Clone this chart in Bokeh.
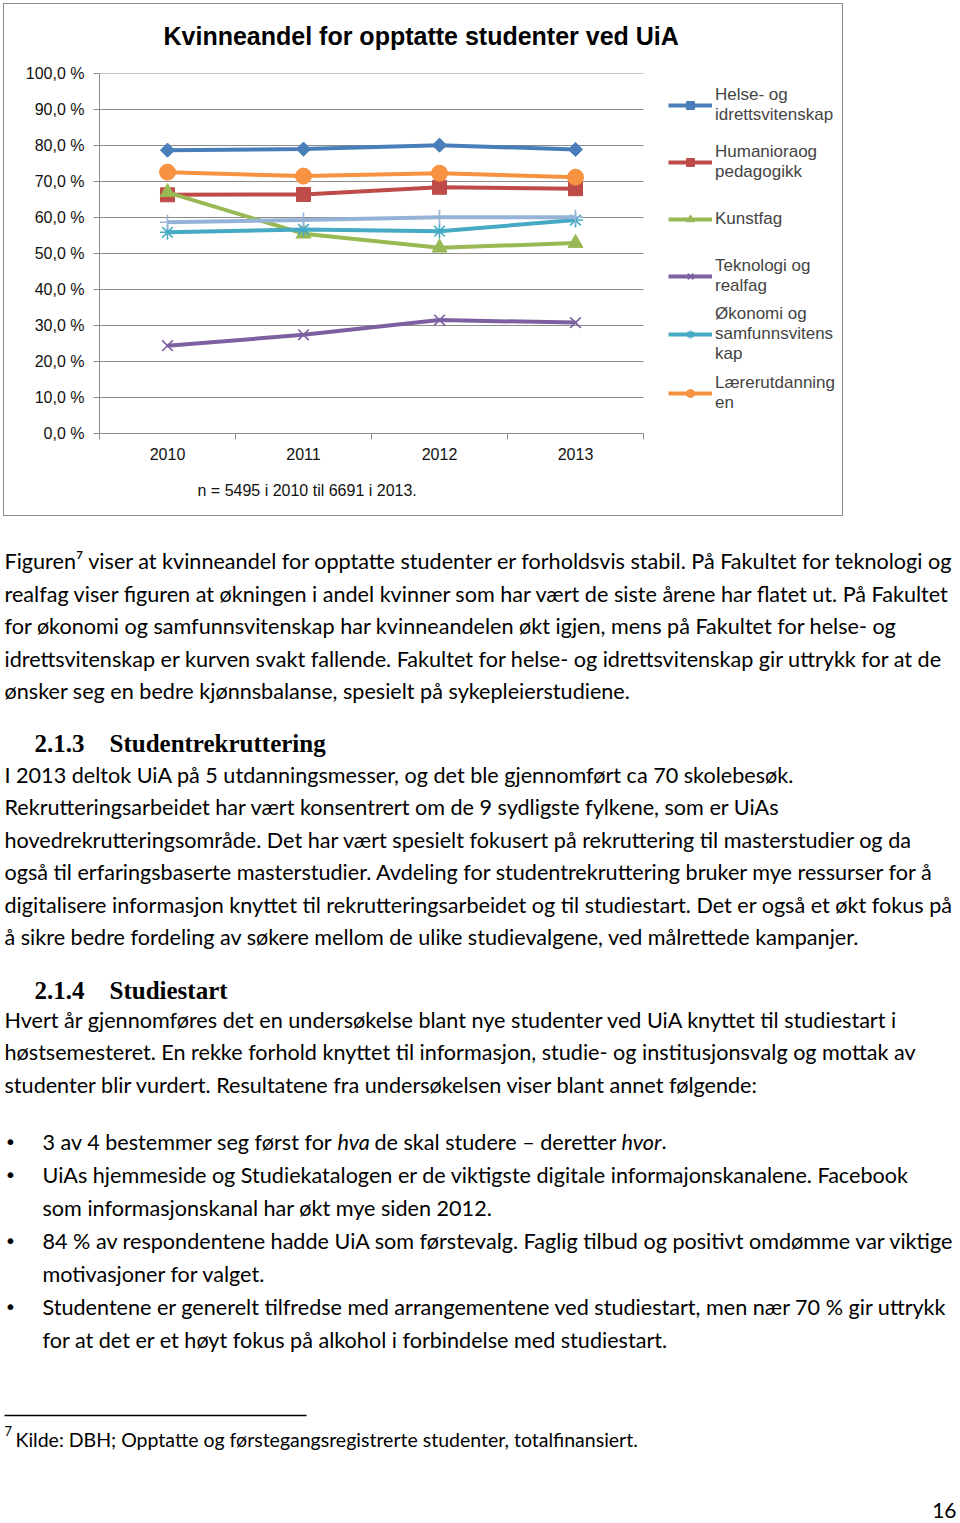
from bokeh.plotting import figure
from bokeh.models import Range1d, FixedTicker, Legend, LegendItem, Title
from bokeh.layouts import column
from bokeh.embed import file_html
from bokeh.resources import INLINE
from bokeh.core.properties import value
import math

# ---------------- data ----------------
years = [2010, 2011, 2012, 2013]
helse = [78.7, 79.0, 80.1, 78.9]
humaniora = [66.3, 66.4, 68.4, 68.0]
kunstfag = [67.0, 55.5, 51.6, 52.9]
teknologi = [24.4, 27.4, 31.5, 30.8]
okonomi = [55.9, 56.7, 56.2, 59.3]
laerer = [72.6, 71.5, 72.3, 71.2]
totalt = [58.7, 59.3, 60.1, 60.1]

y_ticks = [0, 10, 20, 30, 40, 50, 60, 70, 80, 90, 100]
y_tick_labels = ["0,0 %", "10,0 %", "20,0 %", "30,0 %", "40,0 %", "50,0 %",
                 "60,0 %", "70,0 %", "80,0 %", "90,0 %", "100,0 %"]

series_labels = ["Helse- og\nidrettsvitenskap", "Humanioraog\npedagogikk", "Kunstfag",
                 "Teknologi og\nrealfag", "Økonomi og\nsamfunnsvitens\nkap", "Lærerutdanning\nen"]

title_text = "Kvinneandel for opptatte studenter ved UiA"
note_text = "n = 5495 i 2010 til 6691 i 2013."

GRID = "#8c8c8c"
ARIAL = "Liberation Sans"

# ---------------- chart ----------------
W1, H1 = 846, 519
FRAME_L, PLOT_R, FRAME_T, FRAME_B = 99, 643, 73, 433
x_lo, x_hi = years[0] - 0.5, years[-1] + 0.5
px_per_year = (PLOT_R - FRAME_L) / (x_hi - x_lo)
# the frame continues to the right edge so the legend can sit inside it;
# grid lines and axis are bounded to the category area
x_end = x_lo + (W1 - FRAME_L) / px_per_year

p = figure(width=W1, height=H1, x_range=Range1d(x_lo, x_end), y_range=Range1d(0, 100),
           output_backend="svg", toolbar_location=None,
           min_border_left=FRAME_L, min_border_right=0, min_border_top=FRAME_T,
           min_border_bottom=H1 - FRAME_B)
p.frame_align = False
p.styles = {"outline": "1px solid #8c8c8c", "outline-offset": "-4px"}
p.border_fill_color = None
p.background_fill_color = None
p.outline_line_color = None
p.xgrid.visible = False
p.ygrid.visible = False
# horizontal grid lines limited to the plot area (left of the legend)
p.segment(x0=[x_lo] * len(y_ticks), y0=y_ticks, x1=[x_hi] * len(y_ticks), y1=y_ticks,
          line_color=GRID, line_width=1, level="underlay")

bounds = [y - 0.5 for y in years] + [years[-1] + 0.5]
p.xaxis.bounds = (x_lo, x_hi)
p.xaxis.ticker = FixedTicker(ticks=years, minor_ticks=bounds)
p.xaxis.major_tick_out = 0
p.xaxis.major_tick_in = 0
p.xaxis.minor_tick_out = 6
p.xaxis.minor_tick_in = 0
p.xaxis.minor_tick_line_color = GRID
p.xaxis.axis_line_color = GRID
p.xaxis.major_label_standoff = 8
p.xaxis.major_label_text_font = ARIAL
p.xaxis.major_label_text_font_size = "16px"
p.xaxis.major_label_text_color = "#111111"

p.yaxis.ticker = FixedTicker(ticks=y_ticks, minor_ticks=[])
p.yaxis.major_label_overrides = dict(zip(y_ticks, y_tick_labels))
p.yaxis.major_tick_out = 6
p.yaxis.major_tick_in = 0
p.yaxis.major_tick_line_color = GRID
p.yaxis.minor_tick_out = 0
p.yaxis.minor_tick_in = 0
p.yaxis.axis_line_color = GRID
p.yaxis.major_label_standoff = 9
p.yaxis.major_label_text_font = ARIAL
p.yaxis.major_label_text_font_size = "16px"
p.yaxis.major_label_text_color = "#111111"

LW = 4
items = []

def add(vals, color, marker, size, label=None, angle=0.0, mlw=1.0, hollow=False):
    lr = p.line(years, vals, line_color=color, line_width=LW)
    if hollow:
        sr = p.scatter(years, vals, marker=marker, size=size, line_color=color,
                       line_width=mlw, fill_alpha=0, angle=angle)
    else:
        sr = p.scatter(years, vals, marker=marker, size=size, line_color=color,
                       fill_color=color, line_width=mlw, angle=angle)
    if label is not None:
        items.append(LegendItem(label=label, renderers=[lr, sr]))

add(helse, "#4A7EBB", "square", 10, series_labels[0], angle=math.pi / 4)
add(humaniora, "#BE4B48", "square", 14, series_labels[1])
add(kunstfag, "#98B954", "triangle", 15, series_labels[2])
add(teknologi, "#7D60A0", "x", 15, series_labels[3], mlw=1.6, hollow=True)
add(okonomi, "#46AAC5", "asterisk", 15, series_labels[4], mlw=1.6, hollow=True)
add(laerer, "#F69240", "circle", 16, series_labels[5])
add(totalt, "#95B3D7", "cross", 15, None, mlw=1.6, hollow=True)

# tuple location = bottom-left corner of the legend, relative to the frame
legend = Legend(items=items, location=(569, 12), padding=0, margin=0,
                glyph_width=44, glyph_height=20, label_standoff=3, spacing=0,
                label_height=57,
                label_text_font=ARIAL, label_text_font_size="17px",
                label_text_line_height=1.0,
                border_line_alpha=0, background_fill_alpha=0)
p.add_layout(legend)

p.add_layout(Title(text=title_text, align="left", offset=64, standoff=43,
                   vertical_align="top",
                   text_font=ARIAL, text_font_size="25px", text_font_style="bold",
                   text_color="#000000"), "above")
p.add_layout(Title(text=note_text, align="left", offset=98, standoff=38,
                   vertical_align="top",
                   text_font=ARIAL, text_font_size="16px", text_font_style="normal",
                   text_color="#111111"), "below")

# ---------------- document text ----------------
TOP = H1 + 7    # page y of the text figure's top (+ baseline correction)
W2 = 960
H2 = 1523 - H1

body_lines = [
    (4, 567, "Figuren⁷ viser at kvinneandel for opptatte studenter er forholdsvis stabil. På Fakultet for teknologi og"),
    (4, 600, "realfag viser figuren at økningen i andel kvinner som har vært de siste årene har flatet ut. På Fakultet"),
    (4, 632, "for økonomi og samfunnsvitenskap har kvinneandelen økt igjen, mens på Fakultet for helse- og"),
    (4, 665, "idrettsvitenskap er kurven svakt fallende. Fakultet for helse- og idrettsvitenskap gir uttrykk for at de"),
    (4, 697, "ønsker seg en bedre kjønnsbalanse, spesielt på sykepleierstudiene."),
    (4, 781, "I 2013 deltok UiA på 5 utdanningsmesser, og det ble gjennomført  ca 70 skolebesøk."),
    (4, 813, "Rekrutteringsarbeidet har vært konsentrert om de 9 sydligste fylkene, som er UiAs"),
    (4, 846, "hovedrekrutteringsområde. Det har vært spesielt fokusert på rekruttering til masterstudier og da"),
    (4, 878, "også til erfaringsbaserte masterstudier. Avdeling for studentrekruttering bruker mye ressurser for å"),
    (4, 911, "digitalisere informasjon knyttet til rekrutteringsarbeidet og til studiestart. Det er også et økt fokus på"),
    (4, 943, "å sikre bedre fordeling av søkere mellom de ulike studievalgene, ved målrettede kampanjer."),
    (4, 1026, "Hvert år gjennomføres det en undersøkelse blant nye studenter ved UiA knyttet til studiestart i"),
    (4, 1058, "høstsemesteret. En rekke forhold knyttet til informasjon, studie- og institusjonsvalg  og mottak av"),
    (4, 1091, "studenter blir vurdert.  Resultatene fra undersøkelsen viser blant annet følgende:"),
    (42, 1148, "3 av 4 bestemmer seg først for"),
    (374, 1148, "de skal studere – deretter"),
    (661, 1148, "."),
    (42, 1181, "UiAs hjemmeside  og Studiekatalogen er de viktigste digitale informajonskanalene. Facebook"),
    (42, 1214, "som informasjonskanal har økt mye siden 2012."),
    (42, 1247, "84 % av respondentene hadde UiA som førstevalg. Faglig tilbud og positivt omdømme var viktige"),
    (42, 1280, "motivasjoner for valget."),
    (42, 1313, "Studentene er generelt tilfredse med arrangementene ved studiestart, men nær 70 % gir uttrykk"),
    (42, 1346, "for at det er et høyt fokus på alkohol i forbindelse med studiestart."),
]
italic_words = [(337, 1148, "hva"), (621, 1148, "hvor")]
bullet_rows = [1148, 1181, 1247, 1313]
headings = [(34, 750, "2.1.3"), (109, 750, "Studentrekruttering"),
            (34, 997, "2.1.4"), (109, 997, "Studiestart")]
footnote = (15, 1446, "Kilde: DBH; Opptatte og førstegangsregistrerte studenter, totalfinansiert.")
footnote_mark = (4, 1437, "7")
page_number = (956, 1517, "16")

t = figure(width=W2, height=H2, x_range=Range1d(0, W2), y_range=Range1d(H2, 0),
           output_backend="svg", toolbar_location=None, min_border=0,
           x_axis_location=None, y_axis_location=None)
t.frame_align = False
t.grid.visible = False
t.outline_line_color = None

BODY = value("Lato")
BODY_SIZE = "21.6px"
t.text(x=[a for a, _, _ in body_lines], y=[b - TOP for _, b, _ in body_lines],
       text=[c for _, _, c in body_lines], text_font=BODY, text_font_size=BODY_SIZE,
       text_baseline="alphabetic", text_align="left", text_color="#000000")
t.text(x=[a for a, _, _ in italic_words], y=[b - TOP for _, b, _ in italic_words],
       text=[c for _, _, c in italic_words], text_font=BODY, text_font_size=BODY_SIZE,
       text_font_style="italic", text_baseline="alphabetic", text_color="#000000")
t.text(x=[10] * len(bullet_rows), y=[b - TOP for b in bullet_rows],
       text=["•"] * len(bullet_rows), text_font=value("DejaVu Sans"), text_font_size="20px",
       text_baseline="alphabetic", text_align="center", text_color="#000000")
t.text(x=[a for a, _, _ in headings], y=[b - TOP for _, b, _ in headings],
       text=[c for _, _, c in headings], text_font=value("Liberation Serif"),
       text_font_size="25px", text_font_style="bold", text_baseline="alphabetic",
       text_color="#000000")
t.text(x=[footnote[0]], y=[footnote[1] - TOP], text=[footnote[2]], text_font=BODY,
       text_font_size="19.5px", text_baseline="alphabetic", text_color="#000000")
t.text(x=[footnote_mark[0]], y=[footnote_mark[1] - TOP], text=[footnote_mark[2]],
       text_font=BODY, text_font_size="13px", text_baseline="alphabetic", text_color="#000000")
t.segment(x0=[4], y0=[1415 - H1], x1=[306], y1=[1415 - H1], line_color="#000000",
          line_width=1.5)
t.text(x=[page_number[0]], y=[page_number[1] - TOP], text=[page_number[2]], text_font=BODY,
       text_font_size="21px", text_baseline="alphabetic", text_align="right",
       text_color="#000000")

layout = column(p, t)
open("out.html", "w").write(file_html(layout, INLINE))
